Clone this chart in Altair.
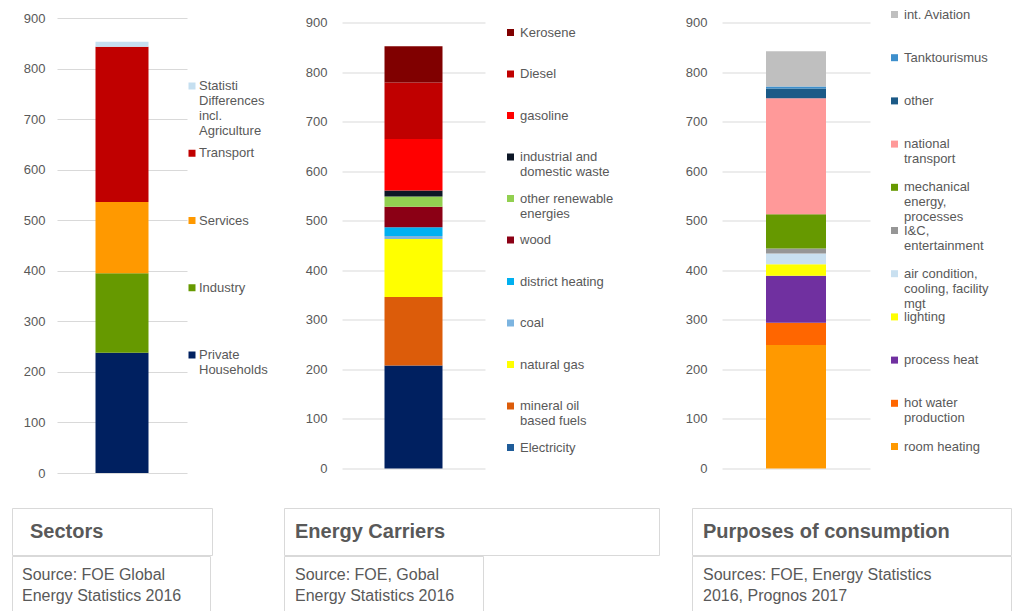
import altair as alt
import pandas as pd

TXT = "#595959"
GRID = "#d9d9d9"
BOX = "#d9d9d9"

Y_TICKS = [0, 100, 200, 300, 400, 500, 600, 700, 800, 900]

# ---- Sectors (stack order bottom -> top)
SECTOR_CATS = ["Private\nHouseholds", "Industry", "Services", "Transport",
               "Statisti\nDifferences\nincl.\nAgriculture"]
SECTOR_VALS = [238, 157, 141, 307, 10]
SECTOR_COLORS = ["#002060", "#669900", "#ff9900", "#c00000", "#c5dff0"]

# ---- Energy carriers (bottom -> top)
CARRIER_CATS = ["Electricity", "mineral oil\nbased fuels", "natural gas", "coal",
                "district heating", "wood", "other renewable\nenergies",
                "industrial and\ndomestic waste", "gasoline", "Diesel", "Kerosene"]
CARRIER_VALS = [208, 138, 117, 6, 18, 41, 21, 12, 104, 114, 73]
CARRIER_COLORS = ["#002060", "#dc5c0a", "#ffff00", "#7cb4e0", "#00b0f0", "#8b0015",
                  "#92d050", "#0d1726", "#ff0000", "#c00000", "#800000"]
CARRIER_LEGEND_COLORS = ["#1f5c99", "#dc5c0a", "#ffff00", "#7cb4e0", "#00b0f0", "#8b0015",
                         "#92d050", "#0d1726", "#ff0000", "#c00000", "#800000"]

# ---- Purposes of consumption (bottom -> top)
PURPOSE_CATS = ["room heating", "hot water\nproduction", "process heat", "lighting",
                "air condition,\ncooling, facility\nmgt", "I&C,\nentertainment",
                "mechanical\nenergy,\nprocesses", "national\ntransport", "other",
                "Tanktourismus", "int. Aviation"]
PURPOSE_VALS = [249, 45, 95, 23, 22, 10, 69, 234, 20, 4, 71]
PURPOSE_COLORS = ["#ff9900", "#ff6600", "#7030a0", "#ffff00", "#c9e0f0", "#969696",
                  "#669900", "#ff9999", "#1b5a87", "#3d8fcc", "#bfbfbf"]

TITLES = ["Sectors", "Energy Carriers", "Purposes of consumption"]
SOURCES = ["Source: FOE Global\nEnergy Statistics 2016",
           "Source: FOE, Gobal\nEnergy Statistics 2016",
           "Sources: FOE, Energy Statistics\n2016, Prognos 2017"]


def spacer(width, height=1):
    return alt.Chart(pd.DataFrame({"s": [0]})).mark_point(
        opacity=0, size=0, strokeWidth=0).encode(
        x=alt.value(1), y=alt.value(0.5)).properties(width=width, height=height)


def bar_panel(name, cats, vals, colors, width, height, bar_size, label_pad):
    df = pd.DataFrame({"grp": name, "cat": cats, "val": vals, "col": colors,
                       "idx": list(range(len(cats)))})
    return alt.Chart(df).mark_bar(size=bar_size).encode(
        x=alt.X("grp:N", axis=None),
        y=alt.Y("val:Q", stack="zero",
                scale=alt.Scale(domain=[0, 900], nice=False),
                axis=alt.Axis(values=Y_TICKS, title=None, domain=False, ticks=False,
                              grid=True, gridColor=GRID, gridWidth=1,
                              labelColor=TXT, labelFontSize=13, labelPadding=label_pad)),
        color=alt.Color("col:N", scale=None),
        order=alt.Order("idx:Q", sort="ascending"),
    ).properties(width=width, height=height)


def legend_panel(cats, colors, width, height, rng, sq_x, tx_x):
    df = pd.DataFrame({"cat": cats, "col": colors})
    y = alt.Y("cat:N", sort=list(reversed(cats)), axis=None,
              scale=alt.Scale(type="point", range=rng, padding=0))
    base = alt.Chart(df).encode(y=y)
    sq = base.mark_square(size=49, opacity=1).encode(
        x=alt.value(sq_x), color=alt.Color("col:N", scale=None))
    tx = base.mark_text(align="left", baseline="top", dy=-6, fontSize=13,
                        lineHeight=15, lineBreak="\n", color=TXT).encode(
        x=alt.value(tx_x), text="cat:N")
    return alt.layer(sq, tx).properties(width=width, height=height)


def title_box(text, width, tx):
    df = pd.DataFrame({"t": [text]})
    return alt.Chart(df).mark_text(align="left", baseline="middle", fontSize=20,
                                   fontWeight="bold", color=TXT).encode(
        x=alt.value(tx), y=alt.value(23.5), text="t:N"
    ).properties(width=width, height=47,
                 view=alt.ViewBackground(stroke=BOX, strokeWidth=1, fill="white"))


def source_box(text, width, tx):
    df = pd.DataFrame({"t": [text]})
    return alt.Chart(df).mark_text(align="left", baseline="top", dy=-8, fontSize=16,
                                   lineHeight=21, lineBreak="\n", color=TXT).encode(
        x=alt.value(tx), y=alt.value(19), text="t:N"
    ).properties(width=width, height=55,
                 view=alt.ViewBackground(stroke=BOX, strokeWidth=1, fill="white"))


p1 = bar_panel("s", SECTOR_CATS, SECTOR_VALS, SECTOR_COLORS, 130, 455, 53, 12)
l1 = legend_panel(SECTOR_CATS, SECTOR_COLORS, 155, 455, [68, 337], 5, 12)
p2 = bar_panel("c", CARRIER_CATS, CARRIER_VALS, CARRIER_COLORS, 143, 446, 58, 15)
l2 = legend_panel(CARRIER_CATS, CARRIER_LEGEND_COLORS, 237, 446, [10, 425], 25.5, 35)
p3 = bar_panel("p", PURPOSE_CATS, PURPOSE_VALS, PURPOSE_COLORS, 148, 446, 60, 15)
l3 = legend_panel(PURPOSE_CATS, PURPOSE_COLORS, 141, 446, [-8, 424], 24.5, 34)

top = alt.hconcat(spacer(45), p1, l1, p2, l2, p3, l3,
                  spacing=0, bounds="flush", center=True)

titles_row = alt.hconcat(
    title_box(TITLES[0], 200, 18), spacer(72),
    title_box(TITLES[1], 375, 11), spacer(33),
    title_box(TITLES[2], 319, 11),
    spacing=0, bounds="flush")
sources_row = alt.hconcat(
    source_box(SOURCES[0], 198, 10), spacer(74),
    source_box(SOURCES[1], 199, 11), spacer(209),
    source_box(SOURCES[2], 319, 11),
    spacing=0, bounds="flush")
bottom = alt.vconcat(titles_row, sources_row, spacing=-1)

chart = alt.vconcat(top, bottom, spacing=27).properties(
    padding={"left": 11, "top": 8, "right": 0, "bottom": 0}
).configure(font="Liberation Sans").configure_view(strokeWidth=0)

chart.save("out.html", embed_options={"renderer": "svg", "actions": False})
